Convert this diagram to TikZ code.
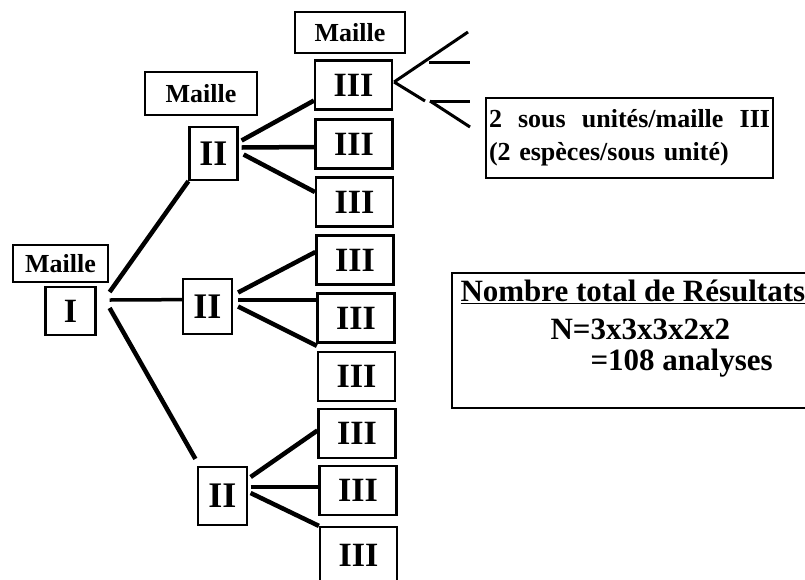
\documentclass[tikz,border=0pt]{standalone}
\usepackage{fontspec}
\setmainfont{Liberation Serif}

\begin{document}
\begin{tikzpicture}[x=1pt, y=-1pt,
		box/.style={draw, line width=2.2pt, inner sep=0pt},
		num/.style={box, font=\fontsize{34}{34}\selectfont\bfseries},
		deux/.style={box, font=\fontsize{36}{36}\selectfont\bfseries},
		trois/.style={num, minimum width=77pt, minimum height=49pt},
		maille/.style={box, line width=2pt, font=\fontsize{26}{26}\selectfont\bfseries},
		result/.style={font=\fontsize{31}{31}\selectfont\bfseries},
		link/.style={line width=4.5pt},
		twig/.style={line width=3pt}]
		\useasboundingbox (0,0) rectangle (805,579);

		\node[maille, minimum width=110pt, minimum height=41pt] (m3) at (350,32.5) {Maille};
		\node[maille, minimum width=112pt, minimum height=43pt] (m2) at (201,93.5) {Maille};
		\node[maille, minimum width=95pt, minimum height=37pt] (m1) at (60.5,263.5) {Maille};

		\node[num, minimum width=50pt, minimum height=48pt] (i) at (70.5,311) {I};

		\node[deux, minimum width=48pt, minimum height=53pt] (ii1) at (213.5,153.5) {II};
		\node[deux, minimum width=49pt, minimum height=55pt] (ii2) at (207.5,306.5) {II};
		\node[deux, minimum width=49pt, minimum height=58pt] (ii3) at (222.5,496) {II};

		\node[trois] (iii1) at (353.5,85) {III};
		\node[trois] (iii2) at (354,144) {III};
		\node[trois] (iii3) at (354.5,202) {III};
		\node[trois] (iii4) at (355,260) {III};
		\node[trois] (iii5) at (356,318) {III};
		\node[trois] (iii6) at (356.5,376.5) {III};
		\node[trois] (iii7) at (357,433.5) {III};
		\node[trois] (iii8) at (358,490.5) {III};
		\node[trois, minimum height=56pt] (iii9) at (358.5,555) {III};

		\draw[link] ([xshift=13pt,yshift=19pt]i.east) -- (ii1.south west);
		\draw[link, line width=3.5pt] ([xshift=13pt,yshift=11pt]i.east) -- (ii2.165);
		\draw[link] ([xshift=13pt,yshift=3pt]i.east) -- ([shift={(-1.5pt,7pt)}]ii3.north west);

		\draw[link] ([xshift=3pt,yshift=13pt]ii1.east) -- ([yshift=10pt]iii1.south west);
		\draw[link] ([xshift=3pt,yshift=6pt]ii1.east) -- ([yshift=-3pt]iii2.west);
		\draw[link] ([xshift=5pt,yshift=-1pt]ii1.east) -- ([yshift=10pt]iii3.west);

		\draw[link] ([xshift=5pt,yshift=14pt]ii2.east) -- ([yshift=8pt]iii4.west);
		\draw[link] ([xshift=5pt,yshift=6.5pt]ii2.east) -- ([yshift=18pt]iii5.west);
		\draw[link] ([xshift=5pt]ii2.east) -- ([yshift=5pt]iii6.north west);

		\draw[link] ([xshift=2.5pt,yshift=19pt]ii3.east) -- ([yshift=3pt]iii7.west);
		\draw[link] ([xshift=2.5pt,yshift=9pt]ii3.east) -- ([yshift=3.5pt]iii8.west);
		\draw[link] ([xshift=2.5pt,yshift=3pt]ii3.east) -- (iii9.north west);

		\coordinate (su1) at (468,32);
		\coordinate (su2) at (425,101);
		\coordinate (esp1) at (429,62);
		\coordinate (esp2) at (470,62);
		\coordinate (esp3) at (430,101);
		\coordinate (esp4) at (470,101);
		\coordinate (esp5) at (470,127);
		\draw[twig] ([xshift=1pt,yshift=3pt]iii1.east) -- (su1);
		\draw[twig] ([xshift=1pt,yshift=3pt]iii1.east) -- (su2);
		\draw[twig] (esp1) -- (esp2);
		\draw[twig] (esp3) -- (esp4);
		\draw[twig] (esp3) -- (esp5);

		\node[box, minimum width=287pt, minimum height=80pt, text width=281pt, align=left,
			font=\fontsize{26}{33}\selectfont\bfseries] (sous) at (629.5,138)
			{2\hfill sous\hfill unités/maille\hfill III\\(2 espèces/sous unité)};

		\node[box, anchor=north west, minimum width=380pt, minimum height=135pt] (total) at (451,272) {};
		\node[result, anchor=base west] (titre) at (457,301) {\underline{Nombre total de Résultats}};
		\node[result, anchor=base west] (formule) at (547,339) {N=3x3x3x2x2};
		\node[result, anchor=base west] (valeur) at (587,370) {=108 analyses};
	\end{tikzpicture}
\end{document}
